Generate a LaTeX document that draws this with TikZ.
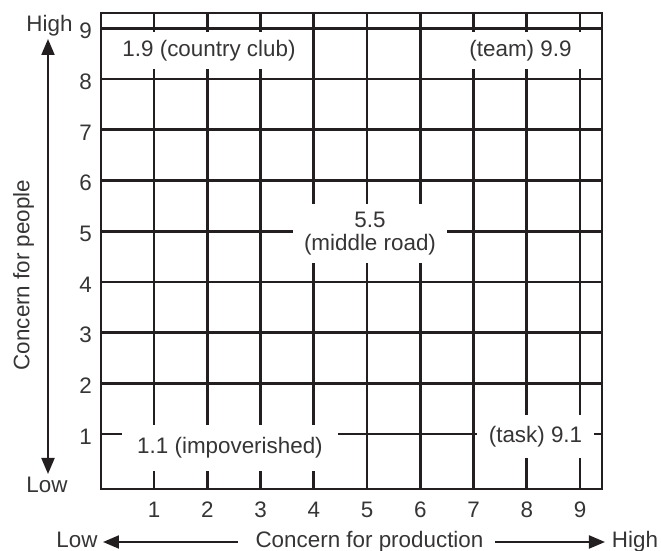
\documentclass[tikz,border=0pt]{standalone}
\usepackage{fontspec}
\setmainfont{Liberation Sans}
\usetikzlibrary{arrows.meta}
\definecolor{ink}{RGB}{35,31,32}
\definecolor{txt}{RGB}{55,52,53}
\begin{document}
\begin{tikzpicture}[x=0.5pt,y=-0.5pt,
  gridline/.style={line width=1.35pt, draw=ink, line cap=rect},
  lbl/.style={font=\fontsize{11.2}{11.5}\selectfont, text=txt, inner sep=0pt},
  whitebox/.style={lbl, fill=white, align=center},
  axisarrow/.style={line width=1pt, draw=ink, -{Triangle[length=8pt,width=6.5pt]}},
  dblarrow/.style={line width=1pt, draw=ink, {Triangle[length=8pt,width=6.5pt]}-{Triangle[length=8pt,width=6.5pt]}}
]
\useasboundingbox (0,0) rectangle (661,551);

% grid lines and scale numbers
\foreach \k in {1,...,9} {
  \pgfmathsetmacro\xx{154+53.25*(\k-1)}
  \pgfmathsetmacro\yy{434-50.7*(\k-1)}
  \draw[gridline] (\xx,13) -- (\xx,489);
  \draw[gridline] (101,\yy) -- (602,\yy);
  \node[lbl] (yl\k) at (85.5,\yy+2.5) {\k};
  \node[lbl] (xl\k) at (\xx,510) {\k};
}

% labels on white boxes
\node[whitebox, minimum width=101pt, minimum height=18.5pt] (cc) at (209,50.5) {1.9 (country club)};
\node[whitebox, minimum width=65.5pt, minimum height=18.5pt] (team) at (520.5,50.5) {(team) 9.9};
\node[whitebox, minimum width=77pt, minimum height=29.5pt] (mid) at (370,233.5) {5.5\\(middle road)};
\node[whitebox, minimum width=108pt, minimum height=23pt] (imp) at (230,448) {1.1 (impoverished)};
\node[whitebox, minimum width=58.5pt, minimum height=21.5pt] (task) at (535.5,436.5) {(task) 9.1};

% outer frame
\draw[gridline] (101,13) rectangle (602,489);

% vertical axis
\node[lbl, anchor=base] (hiy) at (49.5,31.5) {High};
\node[lbl, anchor=base] (loy) at (47,493) {Low};
\coordinate (ytop) at (48,39);
\coordinate (ybot) at (48,474);
\draw[dblarrow] (ytop) -- (ybot);
\node[lbl, rotate=90] (cpeople) at (23.5,275) {Concern for people};

% horizontal axis
\node[lbl, anchor=base] (lox) at (77,548) {Low};
\node[lbl, anchor=base] (cprod) at (369.5,548) {Concern for production};
\node[lbl, anchor=base] (hix) at (635,548) {High};
\coordinate (la) at (238,542);
\coordinate (lb) at (103,542);
\coordinate (ra) at (495,542);
\coordinate (rb) at (605,542);
\draw[axisarrow] (la) -- (lb);
\draw[axisarrow] (ra) -- (rb);
\end{tikzpicture}
\end{document}
